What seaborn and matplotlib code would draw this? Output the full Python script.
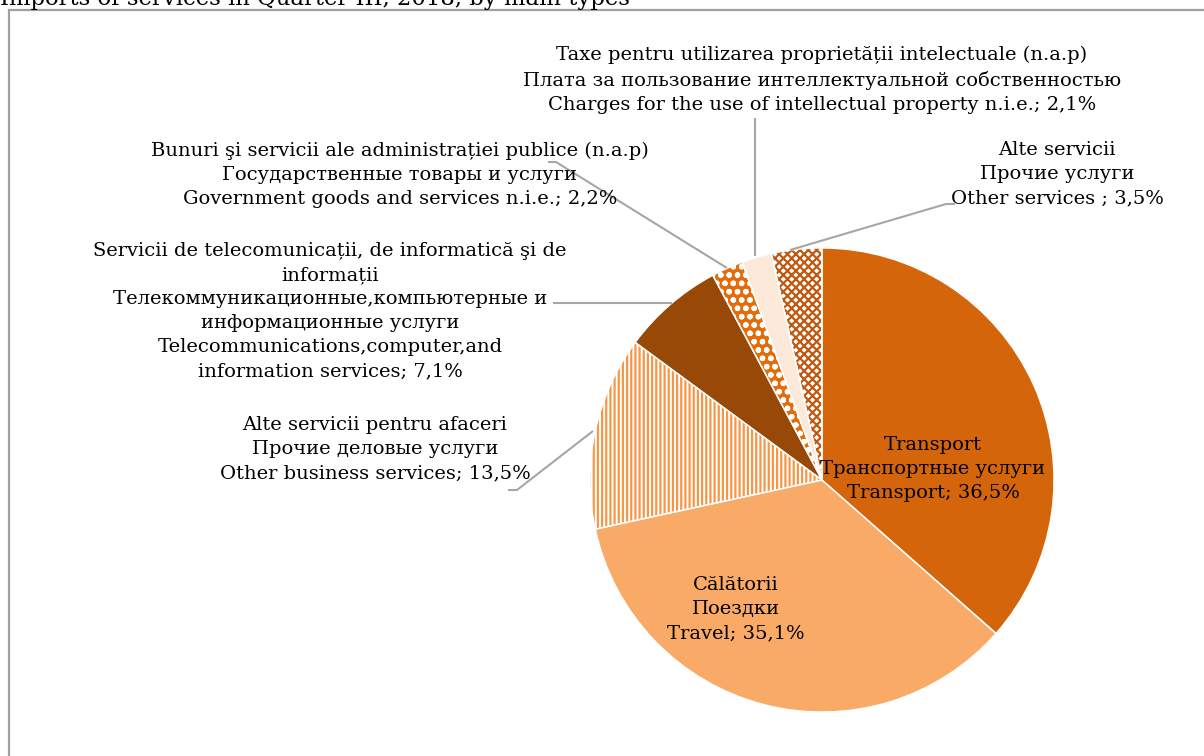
import matplotlib
matplotlib.use("Agg")
import matplotlib.pyplot as plt
import seaborn as sns
from matplotlib.patches import Rectangle

sns.set_theme(style="white")
plt.rcParams['font.family'] = ['DejaVu Serif', 'Liberation Serif']
plt.rcParams['hatch.linewidth'] = 1.6

# ---- data ----
title = "Imports of services in Quarter III, 2018, by main types"
categories = ["Transport", "Travel", "Other business services",
              "Telecommunications, computer, and information services",
              "Government goods and services n.i.e.",
              "Charges for the use of intellectual property n.i.e.",
              "Other services"]
values = [36.5, 35.1, 13.5, 7.1, 2.2, 2.1, 3.5]
labels = [
    "Transport\nТранспортные услуги\nTransport; 36,5%",
    "Călătorii\nПоездки\nTravel; 35,1%",
    "Alte servicii pentru afaceri\nПрочие деловые услуги\nOther business services; 13,5%",
    "Servicii de telecomunicații, de informatică şi de\ninformații\nТелекоммуникационные,компьютерные и\nинформационные услуги\nTelecommunications,computer,and\ninformation services; 7,1%",
    "Bunuri şi servicii ale administrației publice (n.a.p)\nГосударственные товары и услуги\nGovernment goods and services n.i.e.; 2,2%",
    "Taxe pentru utilizarea proprietății intelectuale (n.a.p)\nПлата за пользование интеллектуальной собственностью\nCharges for the use of intellectual property n.i.e.; 2,1%",
    "Alte servicii\nПрочие услуги\nOther services ; 3,5%",
]

# ---- style ----
face = ['#D4650A', '#F8AA66', 'white', '#984807', '#E46C0A', '#FDE9D9', 'white']
hatch_col = ['#D4650A', '#F8AA66', '#F79646', '#984807', 'white', '#FDE9D9', '#C0580F']
hatches = [None, None, '||||', None, 'oo', None, 'xxxx']
label_pos = [(933, 287), (736, 147), (375, 307), (330, 445), (400, 581), (822, 676), (1057, 582)]
leaders = [None, None,
           [(508, 266), (517, 266), (593, 325)],
           [(553, 453), (672, 453)],
           [(548, 594), (556, 594), (727, 488)],
           [(755, 638), (755, 500)],
           [(955, 552), (946, 552), (790, 506)]]

fig = plt.figure(figsize=(12.04, 7.56), dpi=100)
ax = fig.add_axes([0, 0, 1, 1])

center = (822, 276)
radius = 232
wedges, _ = ax.pie(values, startangle=90, counterclock=False, center=center,
                   radius=radius, frame=True,
                   wedgeprops=dict(linewidth=0))
for w, fc, hc, h in zip(wedges, face, hatch_col, hatches):
    w.set_facecolor(fc)
    w.set_edgecolor(hc)
    w.set_linewidth(0)
    if h:
        w.set_hatch(h)
# thin white separators
w2, _ = ax.pie(values, startangle=90, counterclock=False, center=center,
               radius=radius, frame=True,
               wedgeprops=dict(fill=False, edgecolor='white', linewidth=1.0))

ax.set_xlim(0, 1204)
ax.set_ylim(0, 756)
ax.set_aspect('auto')
ax.axis('off')

fs = 14
for lab, (x, y) in zip(labels, label_pos):
    ax.text(x, y, lab, ha='center', va='center', fontsize=fs, linespacing=1.43,
            multialignment='center', color='black')

for pts in leaders:
    if pts:
        xs, ys = zip(*pts)
        ax.plot(xs, ys, color='#A6A6A6', lw=1.5, solid_capstyle='butt')

# frame box (partially outside the image)
ax.add_patch(Rectangle((9, -20), 1300, 756 - 10 + 20, fill=False,
                       edgecolor='#A0A0A0', lw=1.6, clip_on=True))
ax.text(0, 756 - 5, title, ha='left', va='baseline', fontsize=16.4, color='black')

fig.savefig('out.png', dpi=100)
